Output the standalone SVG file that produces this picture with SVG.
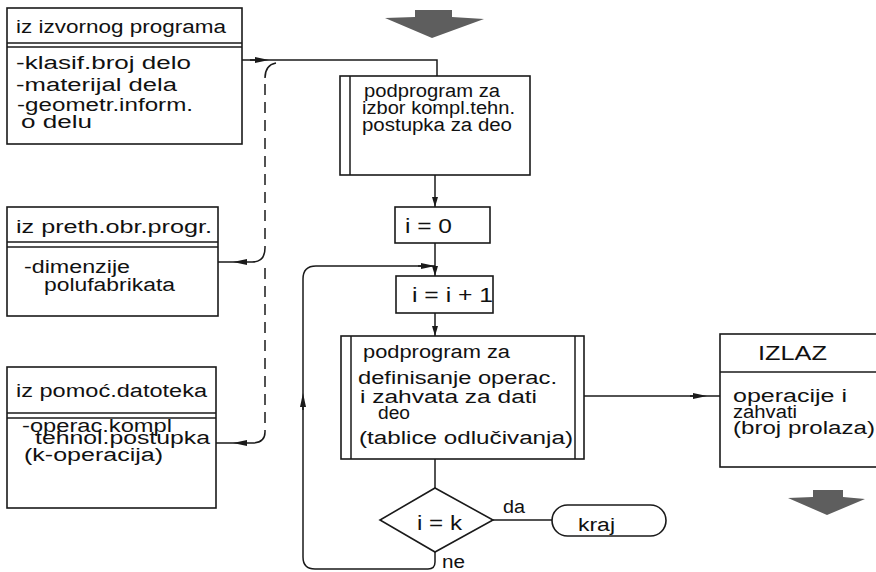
<svg xmlns="http://www.w3.org/2000/svg" width="876" height="572" viewBox="0 0 876 572">
  <style>
    .box { fill: #fff; stroke: #1a1a1a; stroke-width: 1.6; }
    .ln { fill: none; stroke: #1a1a1a; stroke-width: 1.5; }
    .dash { fill: none; stroke: #1a1a1a; stroke-width: 1.5; stroke-dasharray: 11 7; }
    .t { font-family: "Liberation Sans", "DejaVu Sans", sans-serif; font-size: 18px; fill: #111; }
    .lg { font-size: 21px; }
    .big { fill: #5e5e5e; }
  </style>
  <defs>
    <marker id="ah" viewBox="0 0 14 6" refX="7" refY="3" markerWidth="14" markerHeight="6" markerUnits="userSpaceOnUse" orient="auto">
      <path d="M0,0 L14,3 L0,6 Z" fill="#1a1a1a"/>
    </marker>
    <marker id="ahEnd" viewBox="0 0 10 6" refX="10" refY="3" markerWidth="10" markerHeight="6" markerUnits="userSpaceOnUse" orient="auto">
      <path d="M0,0 L10,3 L0,6 Z" fill="#1a1a1a"/>
    </marker>
  </defs>

  <!-- flow direction arrows -->
  <polygon class="big" points="415,10 452,10 452,17 484,19 432,38 385,18 415,17"/>
  <polygon class="big" points="813,490 843,490 843,497 865,499 827,515 788,498 813,497"/>

  <!-- input: source program -->
  <g id="in-source">
    <rect class="box" x="7" y="8" width="235" height="136"/>
    <line class="ln" x1="7" y1="43" x2="242" y2="43"/>
    <line class="ln" x1="7" y1="47" x2="242" y2="47"/>
    <text class="t" x="16" y="33" textLength="210" lengthAdjust="spacingAndGlyphs">iz izvornog programa</text>
    <text class="t" x="16" y="69" textLength="175" lengthAdjust="spacingAndGlyphs">-klasif.broj delo</text>
    <text class="t" x="16" y="91" textLength="161" lengthAdjust="spacingAndGlyphs">-materijal dela</text>
    <text class="t" x="17" y="111" textLength="176" lengthAdjust="spacingAndGlyphs">-geometr.inform.</text>
    <text class="t" x="21" y="128" textLength="71" lengthAdjust="spacingAndGlyphs">o delu</text>
  </g>

  <!-- input: previous processing program -->
  <g id="in-previous">
    <rect class="box" x="7" y="207" width="211" height="109"/>
    <line class="ln" x1="7" y1="242" x2="218" y2="242"/>
    <line class="ln" x1="7" y1="247" x2="218" y2="247"/>
    <text class="t" x="16" y="233" textLength="196" lengthAdjust="spacingAndGlyphs">iz preth.obr.progr.</text>
    <text class="t" x="24" y="273" textLength="106" lengthAdjust="spacingAndGlyphs">-dimenzije</text>
    <text class="t" x="44" y="291" textLength="131" lengthAdjust="spacingAndGlyphs">polufabrikata</text>
  </g>

  <!-- input: auxiliary files -->
  <g id="in-files">
    <rect class="box" x="7" y="367" width="209" height="141"/>
    <line class="ln" x1="7" y1="413" x2="216" y2="413"/>
    <line class="ln" x1="7" y1="418" x2="216" y2="418"/>
    <text class="t" x="16" y="397" textLength="191" lengthAdjust="spacingAndGlyphs">iz pomoć.datoteka</text>
    <text class="t" x="22" y="432" textLength="150" lengthAdjust="spacingAndGlyphs">-operac.kompl</text>
    <text class="t" x="35" y="444" textLength="175" lengthAdjust="spacingAndGlyphs">tehnol.postupka</text>
    <text class="t" x="24" y="461" textLength="139" lengthAdjust="spacingAndGlyphs">(k-operacija)</text>
  </g>

  <!-- subprogram: choosing the complete procedure -->
  <g id="sub-select">
    <rect class="box" x="340" y="76" width="190" height="99"/>
    <line class="ln" x1="350" y1="76" x2="350" y2="175"/>
    <text class="t" x="364" y="97" textLength="136" lengthAdjust="spacingAndGlyphs">podprogram za</text>
    <text class="t" x="362" y="114" textLength="153" lengthAdjust="spacingAndGlyphs">izbor kompl.tehn.</text>
    <text class="t" x="362" y="131" textLength="150" lengthAdjust="spacingAndGlyphs">postupka za deo</text>
  </g>

  <g id="init">
    <rect class="box" x="395" y="207" width="95" height="36"/>
    <text class="t lg" x="405" y="233" textLength="47" lengthAdjust="spacingAndGlyphs">i = 0</text>
  </g>

  <g id="incr">
    <rect class="box" x="396" y="276" width="97" height="37"/>
    <text class="t lg" x="412" y="302" textLength="81" lengthAdjust="spacingAndGlyphs">i = i + 1</text>
  </g>

  <!-- subprogram: defining operations and steps -->
  <g id="sub-define">
    <rect class="box" x="341" y="336" width="243" height="123"/>
    <line class="ln" x1="351" y1="336" x2="351" y2="459"/>
    <line class="ln" x1="575" y1="336" x2="575" y2="459"/>
    <text class="t" x="363" y="358" textLength="147" lengthAdjust="spacingAndGlyphs">podprogram za</text>
    <text class="t" x="358" y="384" textLength="199" lengthAdjust="spacingAndGlyphs">definisanje operac.</text>
    <text class="t" x="360" y="403" textLength="177" lengthAdjust="spacingAndGlyphs">i zahvata za dati</text>
    <text class="t" x="378" y="419" textLength="32" lengthAdjust="spacingAndGlyphs">deo</text>
    <text class="t" x="359" y="444" textLength="214" lengthAdjust="spacingAndGlyphs">(tablice odlučivanja)</text>
  </g>

  <g id="decision">
    <polygon class="box" points="435,488 493,520 435,552 380,520"/>
    <text class="t lg" x="417" y="530" textLength="45" lengthAdjust="spacingAndGlyphs">i = k</text>
  </g>

  <g id="end">
    <rect class="box" x="552" y="505" width="114" height="31" rx="15.5" ry="15.5"/>
    <text class="t" x="578" y="531" textLength="37" lengthAdjust="spacingAndGlyphs">kraj</text>
  </g>

  <!-- output -->
  <g id="output">
    <rect class="box" x="720" y="334" width="160" height="133"/>
    <line class="ln" x1="720" y1="372" x2="880" y2="372"/>
    <text class="t lg" x="758" y="360" textLength="69" lengthAdjust="spacingAndGlyphs">IZLAZ</text>
    <text class="t" x="733" y="402" textLength="114" lengthAdjust="spacingAndGlyphs">operacije i</text>
    <text class="t" x="733" y="418" textLength="64" lengthAdjust="spacingAndGlyphs">zahvati</text>
    <text class="t" x="733" y="434" textLength="142" lengthAdjust="spacingAndGlyphs">(broj prolaza)</text>
  </g>

  <g id="connectors">
    <!-- source data into the first subprogram -->
    <path class="ln" d="M242,60 L437,60 L437,76"/>
    <line class="ln" x1="250" y1="60" x2="262" y2="60" marker-end="url(#ah)"/>
    <!-- dashed collector from the other inputs -->
    <path class="ln" d="M276,63 Q265,65 265,78"/>
    <path class="dash" d="M265,84 L265,248"/>
    <path class="ln" d="M265,248 Q265,262 252,262 L218,262"/>
    <path class="dash" d="M265,268 L265,432"/>
    <path class="ln" d="M265,432 Q265,443 252,443 L216,443"/>
    <line class="ln" x1="246" y1="262" x2="240" y2="262" marker-end="url(#ah)"/>
    <line class="ln" x1="246" y1="443" x2="240" y2="443" marker-end="url(#ah)"/>
    <!-- main sequence -->
    <line class="ln" x1="435" y1="175" x2="435" y2="207" marker-end="url(#ahEnd)"/>
    <line class="ln" x1="435" y1="243" x2="435" y2="276" marker-end="url(#ahEnd)"/>
    <line class="ln" x1="435" y1="313" x2="435" y2="336" marker-end="url(#ahEnd)"/>
    <line class="ln" x1="435" y1="459" x2="435" y2="488"/>
    <!-- to output -->
    <line class="ln" x1="584" y1="396" x2="720" y2="396"/>
    <line class="ln" x1="690" y1="396" x2="700" y2="396" marker-end="url(#ah)"/>
    <!-- yes branch -->
    <line class="ln" x1="493" y1="520" x2="552" y2="520"/>
    <text class="t" x="503" y="513" textLength="22" lengthAdjust="spacingAndGlyphs">da</text>
    <!-- no branch: loop back -->
    <path class="ln" d="M435,552 L435,562 Q435,569 428,569 L315,569 Q303,569 303,557 L303,279 Q303,266 316,266 L435,266"/>
    <line class="ln" x1="303" y1="410" x2="303" y2="400" marker-end="url(#ah)"/>
    <line class="ln" x1="418" y1="266" x2="428" y2="266" marker-end="url(#ah)"/>
    <text class="t" x="442" y="568" textLength="23" lengthAdjust="spacingAndGlyphs">ne</text>
  </g>
</svg>
